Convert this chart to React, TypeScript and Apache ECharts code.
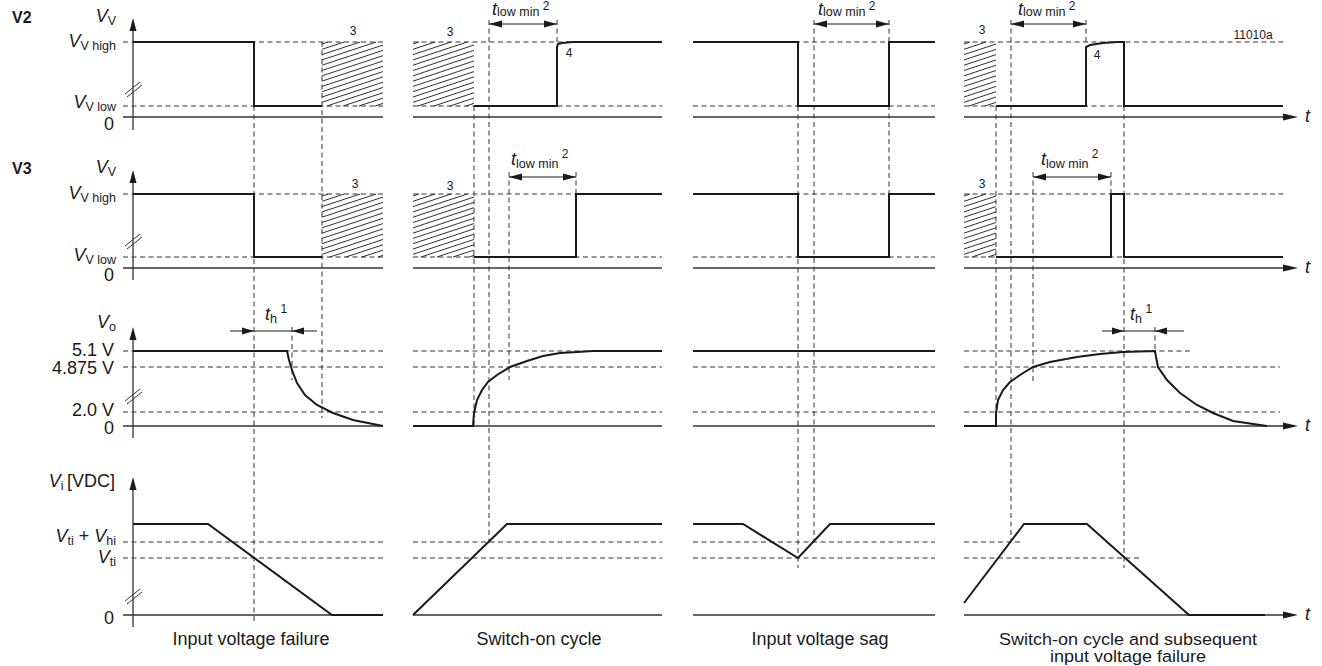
import React, { useEffect, useRef } from "react";
import * as echarts from "echarts";

// ---------------- data (time in arbitrary units, levels in display units above each row's 0 line) ----------------
const ROWS = ["V2", "V3", "Vo", "Vi"];
const ROW_ZERO = [117, 268, 426, 615]; // layout: vertical position of each row's 0 line

const V2_SIGNAL = [
  [[0, 75], [121, 75], [121, 11], [189, 11]],
  [[341, 11], [424, 11], [424, 70], [425, 73], [429, 74], [440, 75], [529, 75]],
  [[560, 75], [665, 75], [665, 11], [756, 11], [756, 75], [802, 75]],
  [[863, 11], [953, 11], [953, 70], [957, 72], [970, 74], [984, 75], [991, 75], [991, 11], [1150, 11]],
];
const V3_SIGNAL = [
  [[0, 74], [121, 74], [121, 11], [189, 11]],
  [[341, 11], [443, 11], [443, 74], [529, 74]],
  [[560, 74], [665, 74], [665, 11], [756, 11], [756, 74], [802, 74]],
  [[863, 11], [978, 11], [978, 74], [991, 74], [991, 11], [1150, 11]],
];
const VO_SIGNAL = [
  [[0, 75], [154, 75], [156, 66], [159, 56], [164, 43], [172, 31], [184, 21], [200, 13], [220, 6], [250, 0]],
  [[280, 0], [340, 0], [341, 13], [344, 26], [349, 36], [355, 44], [364, 51], [377, 59], [394, 65], [410, 70], [427, 73], [444, 74], [460, 75], [529, 75]],
  [[560, 75], [802, 75]],
  [[831, 0], [863, 0], [863, 13], [865, 26], [870, 36], [877, 44], [887, 51], [900, 59], [917, 64], [944, 69], [967, 72], [990, 74], [1022, 75],
   [1023, 69], [1025, 59], [1034, 46], [1047, 33], [1064, 21], [1080, 13], [1100, 5], [1134, 0]],
];
const VI_SIGNAL = [
  [[0, 91], [75, 91], [199, 0], [250, 0]],
  [[280, 0], [374, 91], [529, 91]],
  [[560, 91], [610, 91], [665, 57], [697, 91], [802, 91]],
  [[831, 12], [891, 91], [954, 91], [1056, 0], [1132, 0]],
];
const SIGNALS = [V2_SIGNAL, V3_SIGNAL, VO_SIGNAL, VI_SIGNAL];

// dashed reference levels: [row, level, t1, t2]
const LEVEL_LINES = [
  [0, 75, -10, 250], [0, 11, -10, 250], [0, 75, 280, 529], [0, 11, 280, 529], [0, 75, 560, 802], [0, 11, 560, 802], [0, 75, 831, 1150], [0, 11, 831, 1150],
  [1, 74, -10, 250], [1, 11, -10, 250], [1, 74, 280, 529], [1, 11, 280, 529], [1, 74, 560, 802], [1, 11, 560, 802], [1, 74, 831, 1150], [1, 11, 831, 1150],
  [2, 75, -10, 250], [2, 59, -10, 250], [2, 14, -10, 250], [2, 75, 280, 529], [2, 59, 280, 529], [2, 14, 280, 529],
  [2, 75, 560, 802], [2, 59, 560, 802], [2, 14, 560, 802], [2, 75, 831, 1060], [2, 59, 831, 1147], [2, 14, 831, 1147],
  [3, 73, -10, 250], [3, 57, -10, 250], [3, 73, 280, 529], [3, 57, 280, 529], [3, 73, 560, 802], [3, 57, 560, 802], [3, 73, 831, 889], [3, 57, 831, 1006],
];

// vertical dashed guides: [t, fromRow, fromLevel, toRow, toLevel]
const GUIDES = [
  [121, 0, 11, 3, -7], [189, 0, 75, 2, 8], [341, 0, 11, 2, 0], [356, 0, 97, 3, 73], [376, 1, 96, 2, 46],
  [424, 0, 97, 0, 75], [443, 1, 96, 1, 74], [665, 0, 11, 3, 47], [681, 0, 97, 3, 73], [756, 0, 97, 1, 11],
  [863, 0, 11, 2, 0], [878, 0, 97, 3, 73], [900, 1, 96, 2, 43], [953, 0, 97, 0, 75], [978, 1, 96, 1, 74],
  [991, 0, 11, 3, 47], [159, 2, 99, 2, 46], [1022, 2, 99, 2, 75],
];

// hatched (undefined) areas: [t1, t2, row, lowLevel, highLevel]
const HATCHES = [
  [189, 250, 0, 11, 75], [280, 341, 0, 11, 75], [831, 863, 0, 11, 75],
  [189, 250, 1, 11, 74], [280, 341, 1, 11, 74], [831, 863, 1, 11, 74],
];

// t_low min arrows (double, pointing outward): [t1, t2, row, level]
const TLOW_ARROWS = [[356, 424, 0, 93], [681, 756, 0, 93], [878, 953, 0, 93], [376, 443, 1, 91], [900, 978, 1, 91]];
// t_h arrows (pointing inward): [tipA, tipB, lineStart, lineEnd, row, level]
const TH_ARROWS = [[121, 159, 97, 184, 2, 95], [991, 1022, 969, 1051, 2, 95]];

// time axis spans per column, last one carries the arrow
const ZERO_SPANS = [[-10, 250], [280, 529], [560, 802], [831, 1165]];
// vertical axes: [row, topLevel, bottomLevel, breakLevel]
const Y_AXES = [[0, 99, -13, 27], [1, 98, -12, 26], [2, 99, -12, 29], [3, 138, -12, 18]];

const COLUMN_TITLES = ["Input voltage failure", "Switch-on cycle", "Input voltage sag", "Switch-on cycle and subsequent", "input voltage failure"];

// ---------------- styling ----------------
const INK = "#1a1a1a";
const GUIDE = "#333333";
const F = "'Liberation Sans', Arial, Helvetica, sans-serif";
const DASH = [5, 3.5];

const yOf = (row: number, h: number) => ROW_ZERO[row] - h;

const RICH: any = {
  i: { fontFamily: F, fontStyle: "italic", fontSize: 18, lineHeight: 22, fill: INK },
  I: { fontFamily: F, fontStyle: "italic", fontSize: 18, lineHeight: 18, fill: INK },
  n: { fontFamily: F, fontSize: 18, lineHeight: 22, fill: INK },
  c: { fontFamily: F, fontSize: 17, lineHeight: 17.5, fill: INK },
  s: { fontFamily: F, fontSize: 12.5, lineHeight: 13, verticalAlign: "bottom", fill: INK },
  p: { fontFamily: F, fontSize: 12, lineHeight: 12, verticalAlign: "top", fill: INK },
  b: { fontFamily: F, fontSize: 16, fontWeight: "bold", lineHeight: 20, fill: INK },
  m: { fontFamily: F, fontSize: 12, lineHeight: 14, fill: INK },
};

function txt(x: number, y: number, text: string, align = "left", scaleX = 1) {
  return {
    type: "text",
    x,
    y,
    scaleX,
    silent: true,
    z: 100,
    style: { text, rich: RICH, fill: INK, font: `18px ${F}`, align, verticalAlign: "middle" },
  };
}

function segRender(color: string, width: number, dash: any) {
  return (params: any, api: any) => {
    const a = api.coord([api.value(0), api.value(1)]);
    const b = api.coord([api.value(2), api.value(3)]);
    return {
      type: "line",
      shape: { x1: a[0], y1: a[1], x2: b[0], y2: b[1] },
      style: { stroke: color, lineWidth: width, lineDash: dash, fill: null },
    };
  };
}

function hatchRender(params: any, api: any) {
  const a = api.coord([api.value(0), api.value(2)]);
  const b = api.coord([api.value(1), api.value(3)]);
  const x0 = Math.min(a[0], b[0]);
  const x1 = Math.max(a[0], b[0]);
  const yT = Math.min(a[1], b[1]);
  const yB = Math.max(a[1], b[1]);
  const s = 0.33;
  const step = 5.3;
  const children: any[] = [];
  for (let c = yT + 2; c <= yB + s * (x1 - x0); c += step) {
    const xs = Math.max(x0, x0 + (c - yB) / s);
    const xe = Math.min(x1, x0 + (c - yT) / s);
    if (xe - xs > 0.8) {
      children.push({
        type: "line",
        shape: { x1: xs, y1: c - s * (xs - x0), x2: xe, y2: c - s * (xe - x0) },
        style: { stroke: INK, lineWidth: 0.9 },
      });
    }
  }
  return { type: "group", children };
}

const AL = 13; // arrow head length
const AW = 3.5; // arrow head half width

function tlowRender(params: any, api: any) {
  const p1 = api.coord([api.value(0), api.value(2)]);
  const p2 = api.coord([api.value(1), api.value(2)]);
  const y = p1[1];
  return {
    type: "group",
    children: [
      { type: "line", shape: { x1: p1[0], y1: y, x2: p2[0], y2: y }, style: { stroke: INK, lineWidth: 1.1 } },
      { type: "polygon", shape: { points: [[p1[0], y], [p1[0] + AL, y - AW], [p1[0] + AL, y + AW]] }, style: { fill: INK } },
      { type: "polygon", shape: { points: [[p2[0], y], [p2[0] - AL, y - AW], [p2[0] - AL, y + AW]] }, style: { fill: INK } },
    ],
  };
}

function thRender(params: any, api: any) {
  const a = api.coord([api.value(0), api.value(4)]);
  const b = api.coord([api.value(1), api.value(4)]);
  const s = api.coord([api.value(2), api.value(4)]);
  const e = api.coord([api.value(3), api.value(4)]);
  const y = a[1];
  const L = 12;
  return {
    type: "group",
    children: [
      { type: "line", shape: { x1: s[0], y1: y, x2: e[0], y2: y }, style: { stroke: INK, lineWidth: 1.1 } },
      { type: "polygon", shape: { points: [[a[0], y], [a[0] - L, y - AW], [a[0] - L, y + AW]] }, style: { fill: INK } },
      { type: "polygon", shape: { points: [[b[0], y], [b[0] + L, y - AW], [b[0] + L, y + AW]] }, style: { fill: INK } },
    ],
  };
}

function yAxisRender(params: any, api: any) {
  const top = api.coord([0, api.value(1)]);
  const bot = api.coord([0, api.value(2)]);
  const br = api.coord([0, api.value(3)]);
  const x = top[0];
  return {
    type: "group",
    children: [
      { type: "line", shape: { x1: x, y1: top[1] + 4, x2: x, y2: bot[1] }, style: { stroke: "#333", lineWidth: 1.3 } },
      { type: "polygon", shape: { points: [[x, top[1]], [x - AW, top[1] + AL], [x + AW, top[1] + AL]] }, style: { fill: INK } },
      { type: "line", shape: { x1: x - 8, y1: br[1] + 4, x2: x + 7, y2: br[1] - 8 }, style: { stroke: "#333", lineWidth: 1 } },
      { type: "line", shape: { x1: x - 6, y1: br[1] + 7, x2: x + 9, y2: br[1] - 5 }, style: { stroke: "#333", lineWidth: 1 } },
    ],
  };
}

function zeroRender(params: any, api: any) {
  const a = api.coord([api.value(0), api.value(2)]);
  const b = api.coord([api.value(1), api.value(2)]);
  const withArrow = api.value(3) === 1;
  const children: any[] = [
    { type: "line", shape: { x1: a[0], y1: a[1], x2: withArrow ? b[0] - 4 : b[0], y2: b[1] }, style: { stroke: "#333", lineWidth: 1.3 } },
  ];
  if (withArrow) {
    children.push({ type: "polygon", shape: { points: [[b[0], b[1]], [b[0] - 15, b[1] - AW], [b[0] - 15, b[1] + AW]] }, style: { fill: INK } });
  }
  return { type: "group", children };
}

function buildOption() {
  const series: any[] = [];

  series.push({
    type: "custom", name: "hatch", coordinateSystem: "cartesian2d", silent: true, z: 1,
    renderItem: hatchRender,
    data: HATCHES.map(([t1, t2, r, lo, hi]) => [t1, t2, yOf(r, hi), yOf(r, lo)]),
  });
  series.push({
    type: "custom", name: "levels", coordinateSystem: "cartesian2d", silent: true, z: 2,
    renderItem: segRender(GUIDE, 1, DASH),
    data: LEVEL_LINES.map(([r, h, t1, t2]) => [t1, yOf(r, h), t2, yOf(r, h)]),
  });
  series.push({
    type: "custom", name: "guides", coordinateSystem: "cartesian2d", silent: true, z: 2,
    renderItem: segRender(GUIDE, 1, DASH),
    data: GUIDES.map(([t, r1, h1, r2, h2]) => [t, yOf(r1, h1), t, yOf(r2, h2)]),
  });
  const zeroData: any[] = [];
  ROWS.forEach((_, r) => ZERO_SPANS.forEach(([t1, t2], i) => zeroData.push([t1, t2, yOf(r, 0), i === ZERO_SPANS.length - 1 ? 1 : 0])));
  series.push({
    type: "custom", name: "time axes", coordinateSystem: "cartesian2d", silent: true, z: 3,
    renderItem: zeroRender, data: zeroData,
  });
  series.push({
    type: "custom", name: "value axes", coordinateSystem: "cartesian2d", silent: true, z: 3,
    renderItem: yAxisRender,
    data: Y_AXES.map(([r, top, bot, br]) => [0, yOf(r, top), yOf(r, bot), yOf(r, br)]),
  });
  series.push({
    type: "custom", name: "tlow", coordinateSystem: "cartesian2d", silent: true, z: 4,
    renderItem: tlowRender,
    data: TLOW_ARROWS.map(([t1, t2, r, h]) => [t1, t2, yOf(r, h)]),
  });
  series.push({
    type: "custom", name: "th", coordinateSystem: "cartesian2d", silent: true, z: 4,
    renderItem: thRender,
    data: TH_ARROWS.map(([a, b, s, e, r, h]) => [a, b, s, e, yOf(r, h)]),
  });

  SIGNALS.forEach((segments, r) => {
    segments.forEach((seg, i) => {
      series.push({
        type: "line",
        name: `${ROWS[r]}-${i + 1}`,
        data: seg.map(([t, h]) => [t, yOf(r, h)]),
        showSymbol: false,
        symbol: "none",
        clip: false,
        silent: true,
        z: 6,
        lineStyle: { color: INK, width: 2, join: "miter", cap: "butt" },
      });
    });
  });

  const graphic: any[] = [
    txt(12, 17, "{b|V2}"),
    txt(12, 168, "{b|V3}"),
    txt(116, 16, "{i|V}{s|V}", "right"),
    txt(116, 167, "{i|V}{s|V}", "right"),
    txt(116, 322, "{i|V}{s|o}", "right"),
    txt(115, 481, "{i|V}{s|i }{n|[VDC]}", "right"),
    txt(116, 41, "{i|V}{s|V high}", "right"),
    txt(116, 102, "{i|V}{s|V low}", "right"),
    txt(114, 124, "{n|0}", "right"),
    txt(116, 193, "{i|V}{s|V high}", "right"),
    txt(116, 255, "{i|V}{s|V low}", "right"),
    txt(114, 275, "{n|0}", "right"),
    txt(114, 350, "{n|5.1 V}", "right"),
    txt(114, 368, "{n|4.875 V}", "right"),
    txt(114, 410, "{n|2.0 V}", "right"),
    txt(114, 428, "{n|0}", "right"),
    txt(116, 536, "{i|V}{s|ti}{n| + }{i|V}{s|hi}", "right"),
    txt(116, 557, "{i|V}{s|ti}", "right"),
    txt(114, 618, "{n|0}", "right"),
    txt(251, 639, `{n|${COLUMN_TITLES[0]}}`, "center"),
    txt(539, 639, `{n|${COLUMN_TITLES[1]}}`, "center"),
    txt(820, 639, `{n|${COLUMN_TITLES[2]}}`, "center"),
    txt(1128, 647.5, `{c|${COLUMN_TITLES[3]}}\n{c|${COLUMN_TITLES[4]}}`, "center", 1.06),
    txt(492, 9, "{I|t}{s|low min }{p|2}"),
    txt(818, 9, "{I|t}{s|low min }{p|2}"),
    txt(1018, 9, "{I|t}{s|low min }{p|2}"),
    txt(511, 159, "{i|t}{s|low min }{p|2}"),
    txt(1041, 159, "{i|t}{s|low min }{p|2}"),
    txt(265, 314, "{i|t}{s|h }{p|1}"),
    txt(1130, 314, "{i|t}{s|h }{p|1}"),
    txt(353, 31, "{m|3}", "center"),
    txt(450, 32, "{m|3}", "center"),
    txt(982, 30, "{m|3}", "center"),
    txt(355, 184, "{m|3}", "center"),
    txt(450, 186, "{m|3}", "center"),
    txt(982, 184, "{m|3}", "center"),
    txt(569, 53, "{m|4}", "center"),
    txt(1097, 55, "{m|4}", "center"),
    txt(1253, 35, "{m|11010a}", "center"),
  ];
  ROWS.forEach((_, r) => graphic.push(txt(1305, yOf(r, 1), "{i|t}")));

  return {
    animation: false,
    backgroundColor: "#ffffff",
    grid: { left: 0, right: 0, top: 0, bottom: 0 },
    xAxis: { type: "value", min: -133, max: 1189, show: false },
    yAxis: { type: "value", min: 0, max: 666, inverse: true, show: false },
    series,
    graphic,
  };
}

export default function App() {
  const ref = useRef<HTMLDivElement>(null);
  useEffect(() => {
    const chart = echarts.init(ref.current as HTMLDivElement, null, { renderer: "svg" });
    chart.setOption(buildOption() as any);
    return () => chart.dispose();
  }, []);
  return (
    <div
      ref={ref}
      style={{ position: "absolute", left: 0, top: 0, width: 1322, height: 666, background: "#fff" }}
    />
  );
}
